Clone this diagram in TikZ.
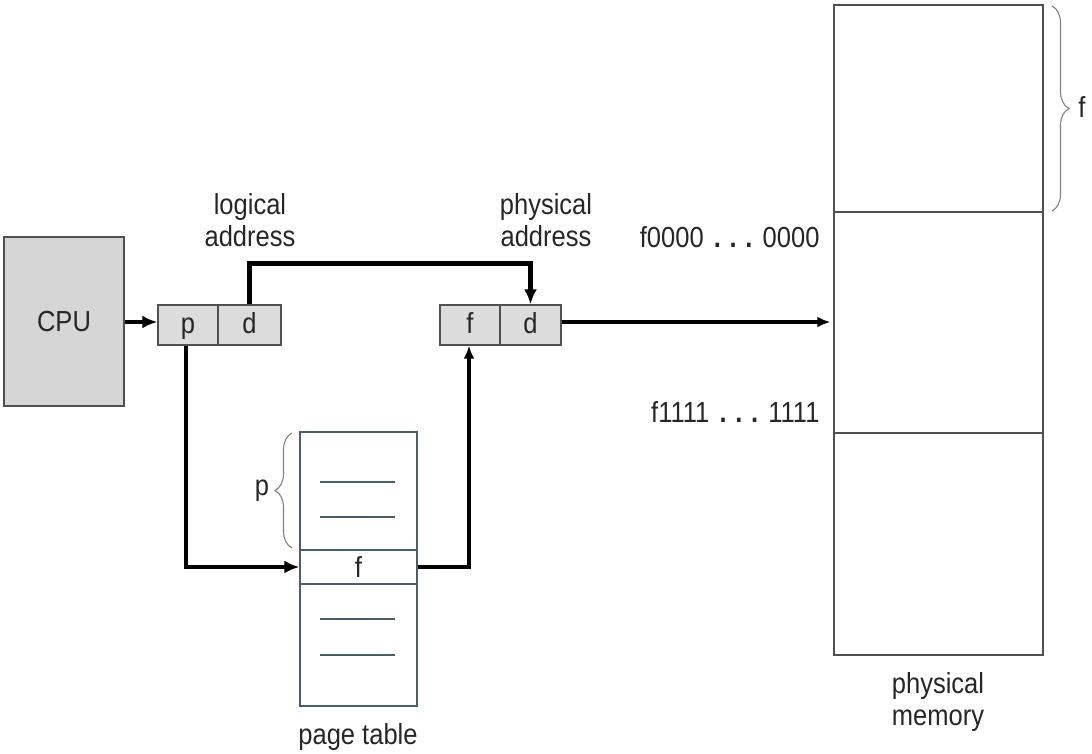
\documentclass[tikz,border=0pt]{standalone}
\usepackage{fontspec}
\setmainfont{Liberation Sans}[FakeStretch=0.88]
\usetikzlibrary{arrows.meta,decorations.pathreplacing,calc}
\definecolor{cpugray}{HTML}{D6D6D6}
\definecolor{boxgray}{HTML}{DCDCDC}
\definecolor{edgegray}{HTML}{505050}
\definecolor{tealgray}{HTML}{4A5E66}
\newcommand{\mydots}{\hspace{0.35em}\textbf{.\hspace{0.3em}.\hspace{0.3em}.}\hspace{0.35em}}
\begin{document}
\begin{tikzpicture}[x=1pt,y=-1pt,
  every node/.style={font=\fontsize{29}{32}\selectfont, text=black!85},
  cpubox/.style={draw=edgegray, line width=1.6pt, fill=cpugray, minimum width=120pt, minimum height=169pt, inner sep=0pt},
  cellbox/.style={draw=edgegray, line width=1.4pt, fill=boxgray, minimum height=40pt, inner sep=0pt, text height=21pt, text depth=4pt},
  ptcell/.style={draw=tealgray, line width=1.3pt, fill=white, minimum width=117pt, inner sep=0pt},
  memcell/.style={draw=edgegray, line width=1.3pt, fill=white, minimum width=209pt, inner sep=0pt},
  thickarrow/.style={line width=4.8pt, -{Latex[length=15pt,width=13pt]}},
  thinarrow/.style={line width=3.2pt, -{Latex[length=13pt,width=11pt]}},
  entry/.style={tealgray, line width=1.4pt},
  bracestyle/.style={draw=gray, line width=1.1pt, decorate, decoration={brace, amplitude=17pt, aspect=0.5}}
]
\useasboundingbox (0,0) rectangle (1092,754);
% CPU
\node[cpubox] (cpu) at (64,321.5) {CPU};
% logical address cells
\node[cellbox, minimum width=60pt] (p) at (188,325) {p};
\node[cellbox, minimum width=63pt] (d) at (249.5,325) {d};
% physical address cells
\node[cellbox, minimum width=60pt] (f) at (470,325) {f};
\node[cellbox, minimum width=61pt] (d2) at (530.5,325) {d};
% labels
\node[align=center] (lal) at (250,220) {logical\\address};
\node[align=center] (pal) at (546,220) {physical\\address};
% page table
\node[ptcell, minimum height=118pt] (pttop) at (358.5,491) {};
\node[ptcell, minimum height=34pt, text height=21pt, text depth=0pt] (ptf) at (358.5,567) {f};
\node[ptcell, minimum height=122pt] (ptbot) at (358.5,645) {};
\draw[entry] (320,482) -- (395,482);
\draw[entry] (320,517) -- (395,517);
\draw[entry] (320,619) -- (395,619);
\draw[entry] (320,655) -- (395,655);
\node (ptl) at (358,737) {page table};
\draw[bracestyle] (292,548) -- (292,433);
\node (plab) at (262,491) {p};
% physical memory
\node[memcell, minimum height=207pt] (m1) at (938.5,108.5) {};
\node[memcell, minimum height=221pt] (m2) at (938.5,322.5) {};
\node[memcell, minimum height=222pt] (m3) at (938.5,544) {};
\node[align=center] (pml) at (938,702) {physical\\memory};
\draw[bracestyle] (1052,6) -- (1052,211);
\node (flab) at (1082,107) {f};
\node[anchor=east] (a0) at (823,237) {f0000\mydots 0000};
\node[anchor=east] (a1) at (823,412) {f1111\mydots 1111};
% connectors
\draw[thickarrow] (cpu.east |- 0,322) -- (p.west |- 0,322);
\draw[thickarrow] ([xshift=-2pt]p.south) |- (ptf.west);
\draw[thickarrow] (d.north) -- ++(0,-41) -| (d2.north);
\draw[thinarrow] (d2.east |- 0,322) -- ([xshift=-3pt]m2.west |- 0,322);
\draw[thinarrow] (ptf.east) -| ([xshift=-1pt]f.south);
\end{tikzpicture}
\end{document}
